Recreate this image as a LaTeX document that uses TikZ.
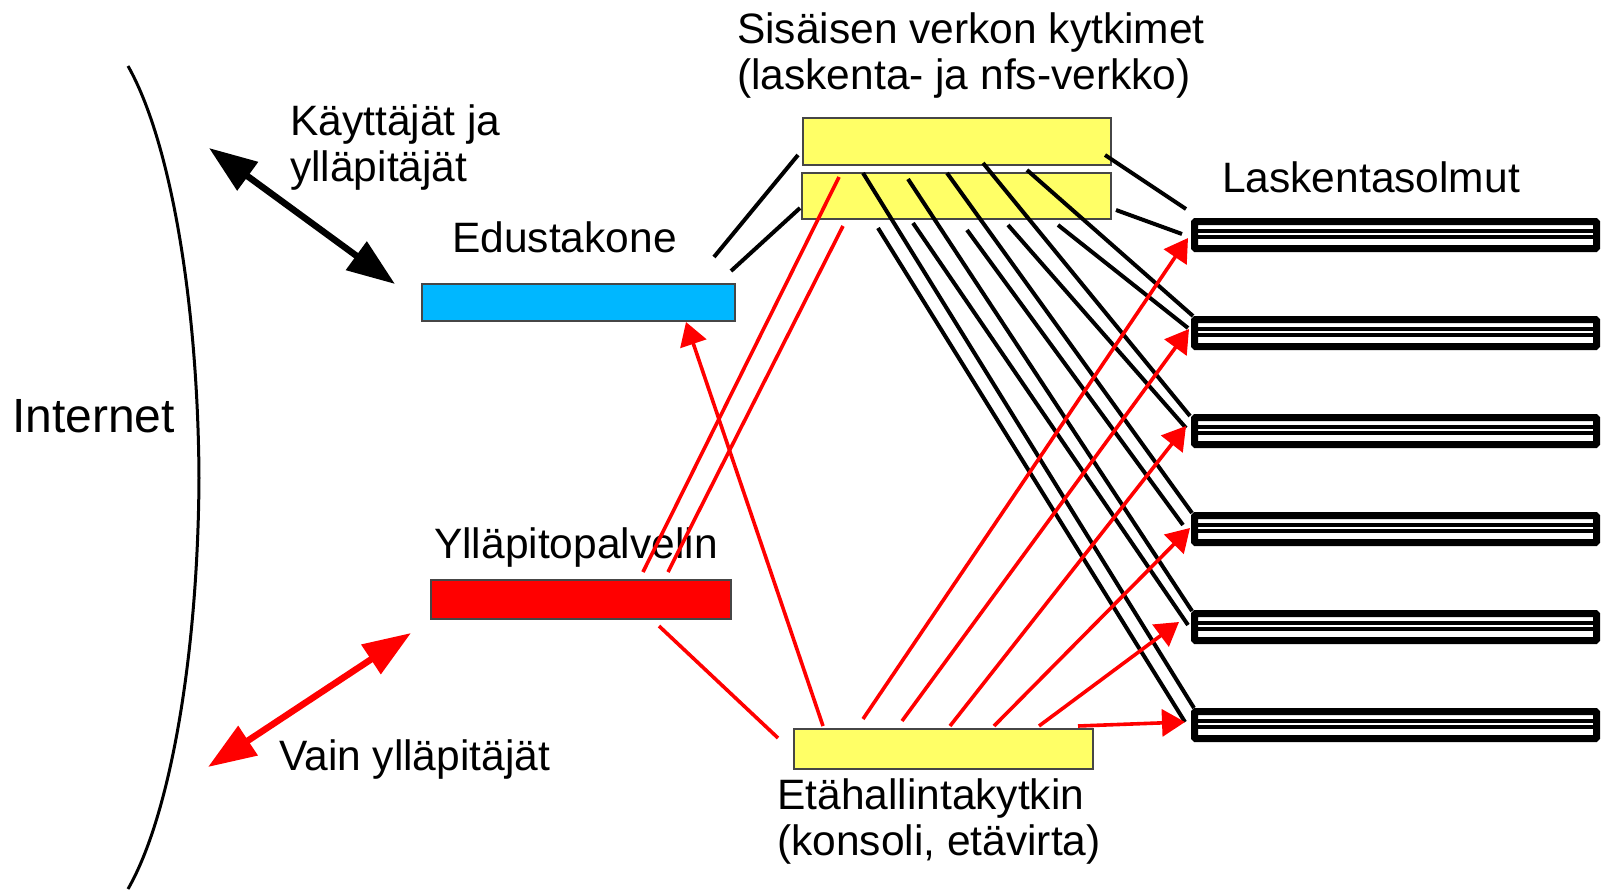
\documentclass[tikz,border=0pt]{standalone}
\usepackage{fontspec}
\setmainfont{Liberation Sans}
\usetikzlibrary{arrows.meta,calc}
\definecolor{swyellow}{RGB}{255,255,102}
\definecolor{edublue}{RGB}{0,183,255}
\definecolor{boxgray}{RGB}{70,70,70}
\begin{document}
\begin{tikzpicture}[x=1pt,y=-1pt,
  lbl/.style={font=\fontsize{42.5}{46}\selectfont, inner sep=0pt, anchor=base west},
  box/.style={draw=boxgray, line width=1.5pt, inner sep=0pt, outer sep=0pt},
  swbox/.style={box, fill=swyellow},
  compnode/.style={draw=black, fill=white, line width=7pt, minimum width=402pt,
    minimum height=27pt, inner sep=0pt, outer sep=3.5pt, rounded corners=1pt},
  blk/.style={black, line width=4pt},
  rd/.style={red, line width=3.6pt},
  rda/.style={rd, -{Triangle[length=23pt,width=27pt]}},
  dbl/.style={line width=6.5pt, {Triangle[length=48pt,width=34pt]}-{Triangle[length=48pt,width=34pt]}}
]
\useasboundingbox (0,0) rectangle (1601,889);

% Internet boundary
\draw[line width=3pt] (128,66) .. controls (170,140) and (198,300) .. (199,478)
  .. controls (198,656) and (170,816) .. (128,889);

% texts
\node[lbl] (t1) at (737,43) {Sisäisen verkon kytkimet};
\node[lbl] (t2) at (737,89) {(laskenta- ja nfs-verkko)};
\node[lbl] (t3) at (290,135) {Käyttäjät ja};
\node[lbl] (t4) at (290,181) {ylläpitäjät};
\node[lbl] (t5) at (452,252) {Edustakone};
\node[lbl] (t6) at (1222,192) {Laskentasolmut};
\node[lbl, font=\fontsize{48}{52}\selectfont] (t7) at (12,432) {Internet};
\node[lbl] (t8) at (434,558) {Ylläpitopalvelin};
\node[lbl] (t9) at (279,770) {Vain ylläpitäjät};
\node[lbl] (t10) at (777,809) {Etähallintakytkin};
\node[lbl] (t11) at (777,855) {(konsoli, etävirta)};

% boxes
\node[swbox, minimum width=308pt, minimum height=47pt] (sw1) at (957,141.5) {};
\node[swbox, minimum width=309pt, minimum height=46pt] (sw2) at (956.5,196) {};
\node[box, fill=edublue, minimum width=313pt, minimum height=37pt] (edu) at (578.5,302.5) {};
\node[box, fill=red, minimum width=300pt, minimum height=39pt] (yp) at (581,599.5) {};
\node[swbox, minimum width=299pt, minimum height=40pt] (eh) at (943.5,749) {};

% compute nodes
\foreach \i/\t in {1/218,2/316,3/414,4/512,5/610,6/708}{
  \node[compnode] (n\i) at (1395.5,\t+17) {};
  \fill[black] ($(n\i.west)+(7,-6.5)$) rectangle ($(n\i.east)+(-7,-2.5)$);
  \fill[black] ($(n\i.west)+(7,0)$) rectangle ($(n\i.east)+(-7,3.5)$);
}

% double arrows
\coordinate (usr) at (209,148);
\coordinate (adm) at (208,767);
\draw[dbl, black] (usr) -- ($(edu.north west)+(-27,0)$);
\draw[dbl, red] (adm) -- ($(yp.south west)+(-20,14)$);

% front end to switches
\draw[blk] ($(edu.north east)+(-21,-27)$) -- ($(sw1.south west)+(-5,-10)$);
\draw[blk] ($(edu.north east)+(-4,-13)$) -- ($(sw2.south west)+(-2,-11)$);

% switches to nodes
\draw[blk] ($(sw1.south east)+(-6,-10)$) -- ($(n1.north west)+(-5,-9)$);
\draw[blk] ($(sw2.south east)+(5,-9)$) -- ($(n1.west)+(-9,-1)$);
\draw[blk] ($(sw1.south west)+(224,5)$) -- ($(n2.north west)+(2,0)$);
\draw[blk] ($(sw1.south west)+(180,-2)$) -- ($(n3.north west)+(-1,2)$);
\draw[blk] ($(sw1.south west)+(144,8)$) -- ($(n4.north west)+(1,1)$);
\draw[blk] ($(sw1.south west)+(105,14)$) -- ($(n5.north west)+(1,1)$);
\draw[blk] ($(sw1.south west)+(60,8)$) -- ($(n6.north west)+(3,0)$);
\draw[blk] ($(sw2.south west)+(256,6)$) -- ($(n2.west)+(-3,-5)$);
\draw[blk] ($(sw2.south west)+(206,6)$) -- ($(n3.west)+(-5,-3)$);
\draw[blk] ($(sw2.south west)+(165,11)$) -- ($(n4.west)+(-8,-4)$);
\draw[blk] ($(sw2.south west)+(111,4)$) -- ($(n5.west)+(-3,-2)$);
\draw[blk] ($(sw2.south west)+(76,9)$) -- ($(n6.west)+(-6,-3)$);

% red management lines
\draw[rda] ($(eh.north west)+(29,-3)$) -- ($(edu.south east)+(-49,1)$);
\draw[rd] ($(yp.north)+(62,-8)$) -- ($(sw2.north west)+(37,4)$);
\draw[rd] ($(yp.north)+(87,-8)$) -- ($(sw2.south west)+(41,7)$);
\draw[rd] ($(yp.south)+(78,7)$) -- ($(eh.west)+(-16,-11)$);
\draw[rda] ($(eh.north west)+(69,-10)$) -- ($(n1.west)+(-3,3)$);
\draw[rda] ($(eh.north west)+(108,-8)$) -- ($(n2.west)+(-2,-4)$);
\draw[rda] ($(eh.north west)+(156,-3)$) -- ($(n3.west)+(-5,-5)$);
\draw[rda] ($(eh.north west)+(200,-3)$) -- ($(n4.west)+(-1,-1)$);
\draw[rda] ($(eh.north west)+(245,-3)$) -- ($(n5.west)+(-12,-5)$);
\draw[rda] ($(eh.north west)+(284,-3)$) -- ($(n6.west)+(-6,-3)$);
\end{tikzpicture}
\end{document}
